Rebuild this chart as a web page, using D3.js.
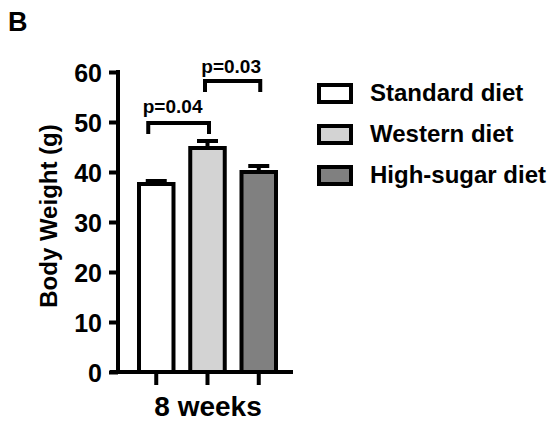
<!DOCTYPE html>
<html>
<head>
<meta charset="utf-8">
<script src="https://cdn.jsdelivr.net/npm/d3@7"></script>
<style>
  body { margin: 0; background: #fff; }
  text { font-family: 'Liberation Sans', Arial, sans-serif; font-weight: bold; fill: #000; }
</style>
</head>
<body>
<svg width="549" height="428"></svg>
<script>
// data
var groups = ['Standard diet', 'Western diet', 'High-sugar diet'];
var means = [37.6, 44.8, 40.0];
var errors = [0.6, 1.4, 1.2];
var fills = ['#ffffff', '#d3d3d3', '#808080'];
var yTicks = [0, 10, 20, 30, 40, 50, 60];
var comparisons = [
    { a: 0, b: 1, y: 49.8, label: 'p=0.04' },
    { a: 1, b: 2, y: 58.2, label: 'p=0.03' }
];

var svg = d3.select('svg');

var axisX = 118;
var axisEnd = 293;

var yScale = d3.scaleLinear().domain([0, 60]).range([372, 72]);
var xBand = d3.scaleBand().domain(groups).range([139, 276]).paddingInner(0.327);

// panel letter
svg.append('text')
    .attr('x', 8).attr('y', 31)
    .style('font-size', '27px')
    .text('B');

// y axis
var yAxis = svg.append('g')
    .attr('transform', `translate(${axisX}, 0)`)
    .call(d3.axisLeft(yScale).tickValues(yTicks).tickSize(9).tickPadding(7).tickSizeOuter(0));
yAxis.select('.domain').attr('stroke', '#000').attr('stroke-width', 4)
    .attr('d', `M0,${yScale(60) - 2}V${yScale(0)}`);
yAxis.selectAll('.tick line').attr('stroke', '#000').attr('stroke-width', 4);
yAxis.selectAll('.tick text')
    .style('font-size', '25px')
    .style('font-family', "'Liberation Sans', Arial, sans-serif")
    .style('font-weight', 'bold')
    .attr('dy', '0.36em');

svg.append('text')
    .attr('text-anchor', 'middle')
    .attr('transform', 'translate(57, 216) rotate(-90)')
    .style('font-size', '24px')
    .text('Body Weight (g)');

// bars
var barG = svg.append('g');
groups.forEach(function(g, i) {
    var x0 = xBand(g);
    var w = xBand.bandwidth();
    var cx = x0 + w / 2;
    // error bar
    barG.append('line')
        .attr('x1', cx).attr('x2', cx)
        .attr('y1', yScale(means[i])).attr('y2', yScale(means[i] + errors[i]))
        .attr('stroke', '#000').attr('stroke-width', 4);
    barG.append('line')
        .attr('x1', cx - 10.5).attr('x2', cx + 10.5)
        .attr('y1', yScale(means[i] + errors[i])).attr('y2', yScale(means[i] + errors[i]))
        .attr('stroke', '#000').attr('stroke-width', 4);
    barG.append('rect')
        .attr('x', x0).attr('width', w)
        .attr('y', yScale(means[i]))
        .attr('height', yScale(0) - yScale(means[i]))
        .attr('fill', fills[i])
        .attr('stroke', '#000').attr('stroke-width', 4);
});

// x axis
svg.append('line')
    .attr('x1', 110).attr('x2', axisEnd)
    .attr('y1', yScale(0)).attr('y2', yScale(0))
    .attr('stroke', '#000').attr('stroke-width', 4);
groups.forEach(function(g) {
    var cx = xBand(g) + xBand.bandwidth() / 2;
    svg.append('line')
        .attr('x1', cx).attr('x2', cx)
        .attr('y1', yScale(0)).attr('y2', yScale(0) + 13)
        .attr('stroke', '#000').attr('stroke-width', 4);
});
svg.append('text')
    .attr('text-anchor', 'middle')
    .attr('x', 208).attr('y', 416)
    .style('font-size', '28px')
    .text('8 weeks');

// significance brackets
comparisons.forEach(function(c, i) {
    var xa = xBand(groups[c.a]) + xBand.bandwidth() / 2 + (i === 0 ? -8 : -2.5);
    var xb = xBand(groups[c.b]) + xBand.bandwidth() / 2 + 1.5;
    var yy = yScale(c.y);
    svg.append('path')
        .attr('d', `M${xa},${yy + 11}V${yy}H${xb}V${yy + 11}`)
        .attr('fill', 'none').attr('stroke', '#000').attr('stroke-width', 4);
    svg.append('text')
        .attr('text-anchor', 'middle')
        .attr('x', (xa + xb) / 2 + (i === 0 ? -6 : -1.5))
        .attr('y', yy - (i === 0 ? 10 : 8))
        .style('font-size', '19px')
        .text(c.label);
});

// legend
var legend = svg.append('g').attr('transform', 'translate(317, 101)');
groups.forEach(function(g, i) {
    var row = legend.append('g').attr('transform', `translate(0, ${i * 41})`);
    row.append('rect')
        .attr('x', 2).attr('y', -16)
        .attr('width', 32).attr('height', 17)
        .attr('fill', fills[i])
        .attr('stroke', '#000').attr('stroke-width', 4);
    row.append('text')
        .attr('x', 53).attr('y', 0)
        .style('font-size', '24px')
        .text(g);
});
</script>
</body>
</html>
